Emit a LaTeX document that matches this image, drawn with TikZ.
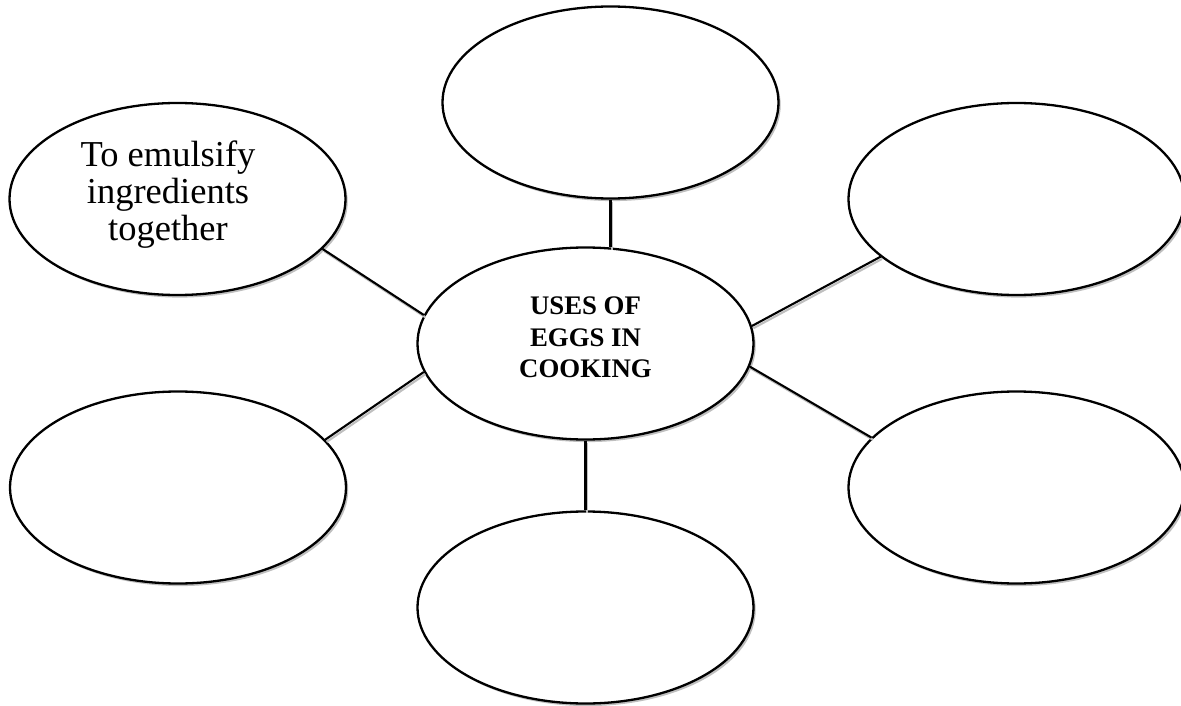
\documentclass[tikz,border=0pt]{standalone}
\usepackage{fontspec}
\setmainfont{Liberation Serif}
\usetikzlibrary{shapes.geometric,shadows}
\tikzset{
  bubble/.style={ellipse, draw=black, line width=2.3pt, fill=white,
    minimum width=336pt, minimum height=192pt, inner sep=0pt,
    drop shadow={shadow xshift=2.2pt, shadow yshift=-2.6pt, fill=gray!50, opacity=1}},
  link/.style={line width=2.1pt, draw=black,
    preaction={draw=gray!50, line width=2.1pt, transform canvas={xshift=1.5pt, yshift=-2.2pt}}},
  plain/.style={font=\fontsize{36.5}{37}\selectfont, align=center, inner sep=0pt},
  boldtxt/.style={font=\bfseries\fontsize{26.8}{31.5}\selectfont, align=center, inner sep=0pt}
}
\begin{document}
\begin{tikzpicture}[x=1pt,y=-1pt]
\useasboundingbox (0,0) rectangle (1181,706);
\node[bubble] (c)   at (585.5,343.5) {};
\node[bubble] (top) at (610.5,102.5) {};
\node[bubble] (tl)  at (177.5,199) {};
\node[bubble] (tr)  at (1016.5,199) {};
\node[bubble] (bl)  at (178,487.5) {};
\node[bubble] (br)  at (1016.5,487.5) {};
\node[bubble] (bot) at (585.5,607.5) {};
\node[plain] (tltext) at (168,195) {To emulsify\\ingredients\\together};
\node[boldtxt] (ctext) at (585.5,337.5) {USES OF\\EGGS IN\\COOKING};
\draw[link, shorten >=-1pt] (top.south) -- (top.south |- c.north);
\draw[link] (c.170.7) -- (tl.-19.4);
\draw[link] (c.6.7) -- (tr.-157.6);
\draw[link] (c.190.7) -- (bl.18.4);
\draw[link] (c.-8.5) -- (br.161.3);
\draw[link] (c.south) -- (bot.north);
\end{tikzpicture}
\end{document}
